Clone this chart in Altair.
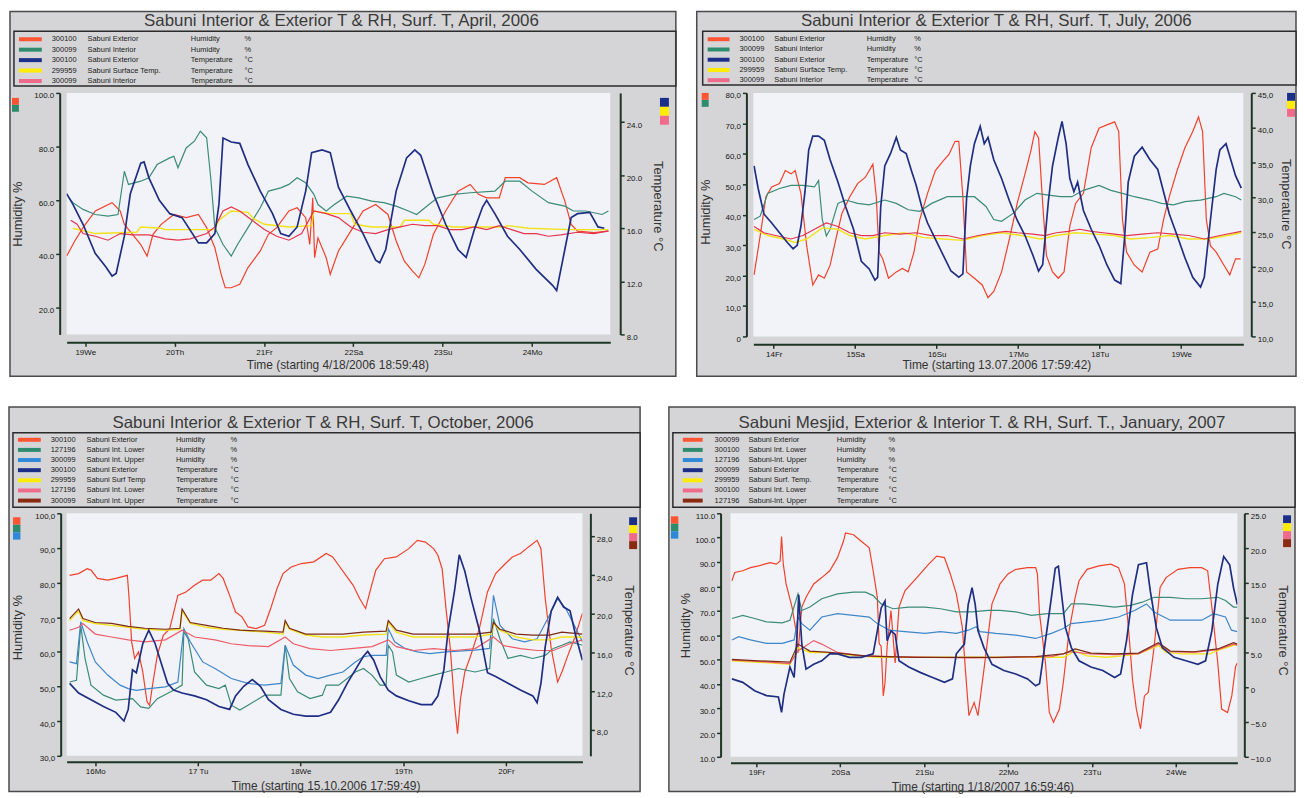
import altair as alt
import pandas as pd

FONT = "Liberation Sans"
GRAY = "#d5d5d7"
PLOT_BG = "#f2f3f9"
EDGE = "#4a4a4a"
AXC = "#1e3526"
TXT = "#333333"

# ---------------------------------------------------------------- April 2006
apr_title = "Sabuni Interior & Exterior T  & RH, Surf. T, April, 2006"
apr_xtitle = "Time (starting 4/18/2006 18:59:48)"
apr_day_ticks = [5, 29, 53, 77, 101, 125]
apr_day_labels = ["19We", "20Th", "21Fr", "22Sa", "23Su", "24Mo"]
apr_rh_ticks = [20, 40, 60, 80, 100]
apr_t_ticks = [8, 12, 16, 20, 24]
apr_leg_roles = ["rh_ext", "rh_int", "t_ext", "t_surf", "t_int"]
apr_leg_ids = ["300100", "300099", "300100", "299959", "300099"]
apr_leg_names = ["Sabuni Exterior", "Sabuni Interior", "Sabuni Exterior", "Sabuni Surface Temp.", "Sabuni Interior"]
apr_leg_qty = ["Humidity", "Humidity", "Temperature", "Temperature", "Temperature"]
apr_leg_units = ["%", "%", "°C", "°C", "°C"]

apr_rh_ext = [(0,39.2),(2.2,44.8),(4.4,49.8),(7.7,56.0),(12.2,59.1),(14.4,56.0),(15.5,51.0),(17.7,47.3),(19.9,43.5),(21.6,39.2),(23.2,47.3),(25.4,51.0),(28.8,54.7),(32.1,53.5),(35.4,54.7),(37.6,49.8),(39.8,42.3),(41.5,32.4),(42.6,27.4),(44.2,27.4),(46.5,28.7),(48.7,34.9),(52.0,41.1),(54.2,47.3),(56.4,49.8),(59.7,56.0),(61.9,57.2),(64.2,53.5),(65.3,43.5),(66.1,60.9),(66.6,38.6),(67.5,46.0),(69.7,38.6),(70.8,32.4),(73.0,41.1),(76.3,48.5),(79.6,56.0),(83.0,58.4),(86.3,54.7),(88.5,44.8),(90.7,37.3),(92.9,33.6),(94.6,31.1),(96.2,36.1),(98.5,47.3),(101.8,56.0),(105.1,63.4),(108.4,65.9),(110.6,62.2),(112.8,60.9),(116.2,60.9),(117.8,68.4),(121.7,68.4),(123.9,66.5),(128.3,65.9),(131.6,68.4),(133.8,59.7),(135.5,51.0),(137.2,48.5),(141.6,47.9),(145.5,48.5)]
apr_rh_int = [(0.6,60.9),(1.7,59.1),(4.4,56.6),(7.7,54.7),(11.1,54.1),(13.8,54.7),(15.5,70.8),(16.6,65.9),(19.9,67.1),(22.1,68.4),(24.3,73.3),(27.7,75.8),(28.8,76.4),(29.9,72.1),(32.1,79.5),(34.3,82.0),(35.9,85.7),(37.6,83.3),(38.7,68.4),(39.8,49.8),(42.0,43.5),(44.2,39.2),(45.9,43.5),(48.7,49.8),(52.0,57.2),(54.2,63.4),(57.5,64.6),(59.7,65.9),(61.9,68.4),(64.2,66.5),(66.4,62.2),(67.5,58.4),(69.7,56.0),(71.9,58.4),(75.2,61.5),(78.5,60.9),(81.9,59.7),(85.2,59.1),(88.5,57.8),(91.8,56.0),(94.0,54.7),(97.3,58.4),(99.6,60.9),(104.0,62.2),(108.4,62.8),(115.0,63.4),(117.8,67.1),(121.7,67.1),(125.0,63.4),(129.4,59.1),(133.8,57.8),(136.1,56.0),(139.4,56.0),(143.8,54.7),(145.5,56.0)]
apr_t_ext = [(0,18.6),(1.7,17.8),(4.4,16.3),(7.7,14.1),(10.5,13.1),(12.2,12.4),(13.3,12.6),(15.5,15.4),(17.1,18.6),(19.9,20.9),(20.8,21.0),(22.1,19.8),(24.9,18.1),(27.7,17.1),(31.0,16.8),(35.4,14.9),(37.6,14.9),(39.8,15.6),(40.9,17.8),(42.0,22.8),(44.2,22.5),(46.5,22.4),(48.7,20.8),(52.0,18.8),(55.3,17.1),(57.5,15.6),(59.7,15.4),(61.9,16.1),(64.2,18.8),(65.8,21.7),(68.6,21.9),(70.8,21.7),(73.0,19.1),(76.3,17.3),(79.6,15.6),(83.0,13.6),(84.1,13.4),(85.7,14.4),(88.5,18.8),(91.3,21.3),(93.5,21.9),(95.1,21.5),(98.5,18.6),(101.8,16.3),(105.1,14.4),(107.3,13.8),(109.5,15.9),(111.7,17.6),(112.8,18.1),(115.0,17.1),(118.4,15.4),(121.7,14.4),(126.1,12.9),(130.5,11.7),(131.6,11.3),(133.8,14.4),(135.5,16.8),(137.2,17.1),(140.5,17.2),(142.7,16.1),(144.4,16.0)]
apr_t_surf = [(1.7,16.0),(7.7,15.6),(18.8,15.7),(19.9,16.1),(25.4,16.0),(26.5,15.9),(39.8,15.9),(40.9,16.6),(44.2,17.3),(48.7,17.2),(50.3,16.7),(53.1,16.3),(59.7,16.1),(65.8,16.2),(66.4,17.3),(70.8,17.1),(76.3,17.1),(77.4,16.3),(81.9,16.1),(89.6,16.1),(90.7,16.6),(97.3,16.6),(98.5,16.3),(104.0,16.1),(117.3,16.1),(118.4,16.2),(124.0,16.0),(135.0,15.9),(145.5,15.9)]
apr_t_int = [(1.1,16.6),(2.8,16.3),(4.4,15.6),(7.7,15.4),(11.1,15.1),(14.4,15.6),(17.7,15.5),(22.1,15.5),(26.5,15.2),(29.9,15.1),(33.2,15.2),(37.6,15.6),(39.8,16.1),(42.0,17.3),(44.2,17.6),(46.5,17.3),(49.8,16.6),(53.1,15.9),(56.4,15.4),(59.7,15.1),(63.1,15.6),(66.4,17.3),(69.7,17.1),(73.0,16.8),(76.3,16.1),(79.6,15.7),(83.0,15.6),(86.3,15.9),(89.6,16.1),(92.9,16.3),(96.2,16.2),(99.6,16.2),(102.9,15.9),(106.2,15.9),(109.5,16.1),(112.8,15.9),(116.2,16.2),(119.5,15.9),(122.8,15.6),(126.1,15.6),(129.4,15.4),(132.7,15.5),(137.2,15.7),(141.6,15.6),(145.5,15.8)]

# ---------------------------------------------------------------- July 2006
jul_title = "Sabuni Interior & Exterior T & RH, Surf. T, July, 2006"
jul_xtitle = "Time (starting 13.07.2006 17:59:42)"
jul_day_ticks = [6, 30, 54, 78, 102, 126]
jul_day_labels = ["14Fr", "15Sa", "16Su", "17Mo", "18Tu", "19We"]
jul_rh_ticks = [0, 10, 20, 30, 40, 50, 60, 70, 80]
jul_t_ticks = [10, 15, 20, 25, 30, 35, 40, 45]
jul_leg_roles = ["rh_ext", "rh_int", "t_ext", "t_surf", "t_int"]
jul_leg_ids = ["300100", "300099", "300100", "299959", "300099"]
jul_leg_names = ["Sabuni Exterior", "Sabuni Interior", "Sabuni Exterior", "Sabuni Surface Temp.", "Sabuni Interior"]
jul_leg_qty = ["Humidity", "Humidity", "Temperature", "Temperature", "Temperature"]
jul_leg_units = ["%", "%", "°C", "°C", "°C"]

jul_rh_ext = [(0.2,20.2),(2.0,33.0),(3.7,45.9),(5.4,49.1),(7.7,50.2),(9.4,54.5),(11.1,53.4),(12.3,54.5),(14.0,47.0),(15.7,29.8),(17.5,16.9),(19.2,20.2),(20.9,19.1),(22.6,23.4),(24.3,32.0),(26.1,40.5),(28.4,45.9),(30.7,50.2),(33.0,52.3),(35.2,56.6),(36.2,45.9),(37.0,27.7),(38.1,25.5),(39.8,19.1),(42.1,21.2),(43.9,22.3),(45.6,21.2),(47.3,27.7),(49.0,38.4),(51.3,47.0),(53.6,54.5),(55.9,57.7),(57.6,59.8),(59.4,64.1),(60.5,64.1),(61.7,45.9),(62.8,21.2),(65.1,19.1),(67.4,16.9),(69.1,12.7),(70.8,14.8),(73.1,21.2),(75.4,32.0),(77.7,43.7),(80.0,53.4),(81.7,60.9),(82.9,67.3),(84.0,65.2),(85.2,43.7),(86.3,26.6),(88.1,21.2),(89.8,19.1),(91.5,21.2),(93.2,36.2),(94.9,43.7),(97.2,47.0),(99.5,62.0),(101.8,68.4),(104.1,69.5),(106.4,70.5),(107.6,67.3),(108.7,38.4),(109.9,27.7),(112.2,23.4),(114.5,21.2),(116.8,27.7),(119.1,28.7),(120.8,38.4),(122.5,45.9),(124.8,54.5),(127.1,62.0),(129.4,67.3),(131.1,72.1),(132.3,67.3),(133.4,38.4),(134.6,29.8),(136.3,27.7),(138.6,23.4),(140.3,20.2),(142.0,25.5),(143.5,25.5)]
jul_rh_int = [(0.2,38.4),(2.0,39.5),(4.2,47.0),(7.7,48.6),(11.1,49.6),(14.6,49.6),(18.0,49.1),(19.2,51.2),(20.3,38.4),(21.5,33.0),(22.6,35.2),(24.9,43.7),(27.2,44.8),(30.7,43.7),(34.1,43.2),(38.7,44.8),(42.1,43.7),(45.6,41.6),(49.0,41.1),(52.5,43.7),(57.1,45.9),(61.7,45.9),(65.1,45.9),(68.5,42.7),(70.8,38.4),(73.1,37.8),(76.6,40.5),(80.0,44.8),(83.5,47.0),(86.9,46.4),(90.4,45.9),(93.8,45.9),(97.2,48.0),(101.8,49.6),(105.3,48.0),(108.7,47.0),(112.2,45.9),(116.8,44.8),(120.2,43.7),(123.7,43.2),(127.1,44.3),(131.7,44.8),(136.3,45.9),(138.6,47.0),(142.0,45.9),(143.7,44.8)]
jul_t_ext = [(0.2,34.5),(1.4,31.3),(3.1,27.6),(5.4,26.3),(7.7,24.9),(10.0,23.5),(11.7,22.6),(12.9,23.1),(14.0,25.8),(15.2,30.8),(16.3,36.8),(17.5,38.8),(19.2,38.8),(20.9,38.2),(22.6,35.4),(24.9,32.2),(27.2,28.6),(29.5,25.4),(31.8,20.8),(34.1,19.7),(35.8,18.1),(36.6,18.5),(37.5,28.6),(38.7,34.5),(40.4,36.3),(42.1,38.6),(43.3,36.8),(45.0,36.3),(46.7,33.6),(47.9,31.8),(49.6,28.6),(51.3,26.3),(53.6,24.0),(55.9,21.7),(58.2,19.4),(60.5,18.5),(61.7,19.0),(62.8,29.9),(63.9,34.5),(65.1,37.7),(66.8,40.2),(68.0,37.7),(69.1,38.6),(70.8,35.4),(73.1,32.7),(75.4,29.5),(77.7,26.7),(80.0,24.5),(82.3,21.7),(84.0,19.4),(85.2,20.3),(86.9,29.5),(88.1,34.5),(89.8,38.6),(90.9,40.9),(92.1,37.7),(93.2,32.7),(94.4,30.8),(95.5,32.2),(97.2,28.1),(99.5,25.4),(101.8,23.1),(104.1,20.3),(106.4,18.1),(108.2,17.6),(109.3,24.0),(110.4,32.2),(112.2,35.9),(114.5,37.2),(116.8,35.4),(119.1,34.0),(120.8,30.8),(122.5,27.6),(124.8,24.5),(127.1,21.3),(129.4,18.5),(131.7,17.1),(132.8,18.5),(134.6,26.7),(136.3,34.0),(137.4,36.8),(139.2,37.7),(140.3,35.9),(142.0,33.1),(143.7,31.3)]
jul_t_surf = [(0.2,25.4),(4.2,24.5),(8.8,24.0),(12.3,23.5),(15.7,24.0),(20.3,25.6),(24.9,25.4),(28.4,24.5),(33.0,24.0),(38.7,24.5),(44.4,24.9),(50.2,24.2),(55.9,24.0),(61.7,23.8),(67.4,24.5),(73.1,24.9),(78.9,24.5),(84.6,24.0),(89.2,24.5),(94.9,24.9),(100.7,24.7),(106.4,24.5),(111.0,24.0),(116.8,24.2),(122.5,24.5),(128.2,24.0),(133.9,24.0),(139.7,24.5),(143.7,24.9)]
jul_t_int = [(0.2,25.8),(3.1,24.9),(6.5,24.5),(11.1,24.0),(14.6,24.5),(18.0,25.4),(21.5,26.3),(24.9,25.8),(28.4,24.9),(31.8,24.5),(35.2,24.5),(38.7,24.9),(43.3,24.7),(47.9,24.9),(52.5,24.5),(57.1,24.5),(61.7,24.0),(66.2,24.5),(70.8,24.9),(74.4,25.1),(77.7,24.9),(82.3,24.7),(85.8,24.5),(89.2,24.9),(92.7,25.1),(96.1,25.4),(99.5,25.1),(103.0,24.9),(106.4,24.7),(109.9,24.5),(114.5,24.7),(119.1,24.9),(123.7,24.7),(128.2,24.5),(132.8,24.0),(137.4,24.5),(143.7,25.1)]

# ---------------------------------------------------------------- October 2006
oct_title = "Sabuni Interior & Exterior T & RH, Surf. T, October, 2006"
oct_xtitle = "Time (starting 15.10.2006 17:59:49)"
oct_day_ticks = [6, 30, 54, 78, 102]
oct_day_labels = ["16Mo", "17 Tu", "18We", "19Th", "20Fr"]
oct_rh_ticks = [30, 40, 50, 60, 70, 80, 90, 100]
oct_t_ticks = [8, 12, 16, 20, 24, 28]
oct_leg_roles = ["rh_ext", "rh_low", "rh_up", "t_ext", "t_surf", "t_low", "t_up"]
oct_leg_ids = ["300100", "127196", "300099", "300100", "299959", "127196", "300099"]
oct_leg_names = ["Sabuni Exterior", "Sabuni Int. Lower", "Sabuni Int. Upper", "Sabuni Exterior", "Sabuni Surf Temp", "Sabuni Int. Lower", "Sabuni Int. Upper"]
oct_leg_qty = ["Humidity", "Humidity", "Humidity", "Temperature", "Temperature", "Temperature", "Temperature"]
oct_leg_units = ["%", "%", "%", "°C", "°C", "°C", "°C"]

oct_rh_ext = [(0,82.1),(2.1,82.6),(4.1,84.0),(5.0,83.6),(6.5,81.2),(8.9,80.7),(10.8,81.2),(13.5,82.1),(13.9,75.4),(14.5,62.9),(15.2,58.1),(16.1,60.0),(17.1,54.2),(18.1,45.6),(18.7,44.6),(19.5,51.3),(20.5,59.0),(21.9,64.8),(23.4,66.7),(25.3,76.3),(27.2,77.3),(29.2,79.2),(31.1,80.7),(33.0,80.7),(34.9,82.6),(35.9,81.2),(37.4,76.3),(38.8,71.5),(40.3,70.1),(41.7,67.2),(43.6,66.7),(45.6,67.7),(47.0,72.5),(48.5,78.3),(49.9,82.6),(51.8,84.5),(54.2,85.5),(57.1,86.0),(60.0,88.4),(61.5,87.4),(62.9,85.0),(64.9,81.6),(66.3,79.2),(67.8,75.4),(69.2,72.5),(70.2,77.3),(71.6,83.6),(73.6,86.9),(76.4,87.4),(79.3,89.8),(81.3,92.2),(83.2,91.7),(85.1,89.8),(86.1,87.9),(87.1,84.0),(88.0,72.5),(89.0,61.0),(90.0,44.6),(90.7,36.4),(91.4,46.5),(92.4,54.2),(93.8,59.0),(95.8,66.7),(97.7,77.3),(99.6,82.6),(101.5,85.0),(103.5,87.4),(105.4,88.4),(107.3,90.3),(109.3,92.2),(110.2,89.8),(111.2,75.4),(112.6,61.0),(114.1,51.3),(115.1,54.2),(116.5,59.0),(118.0,63.8),(119.9,71.1)]
oct_rh_low = [(0,51.3),(1.6,51.8),(2.6,67.7),(3.6,58.1),(5.0,50.4),(7.9,47.5),(10.8,46.1),(14.7,46.5),(16.6,44.1),(18.5,43.7),(20.5,46.5),(24.3,48.9),(26.3,50.4),(26.7,65.8),(27.7,63.8),(29.2,54.2),(32.0,50.4),(34.9,49.4),(36.4,50.4),(37.8,44.6),(39.8,43.2),(41.7,44.6),(45.6,47.5),(49.4,47.5),(50.4,61.9),(51.4,52.3),(53.3,48.5),(56.2,46.5),(59.1,47.5),(60.0,50.4),(62.9,50.4),(64.9,52.3),(66.8,54.2),(68.7,55.2),(70.7,53.3),(72.6,50.4),(74.0,50.4),(74.5,61.9),(75.5,60.0),(76.4,53.3),(79.3,51.3),(82.2,52.3),(85.1,53.3),(88.0,54.2),(90.9,55.2),(94.8,54.2),(98.2,55.2),(99.1,69.6),(100.6,63.8),(102.5,58.1),(105.4,59.0),(108.3,58.1),(111.2,59.0),(113.1,61.0),(115.1,61.9),(117.0,62.9),(119.9,61.9)]
oct_rh_up = [(0,57.1),(1.6,56.6),(2.6,68.7),(4.1,62.9),(6.0,57.1),(8.9,53.3),(11.8,50.4),(13.7,49.4),(15.6,48.9),(18.5,49.4),(22.4,49.9),(25.3,51.3),(26.7,66.7),(28.2,62.9),(31.1,57.1),(34.0,55.2),(37.8,52.3),(41.7,50.9),(45.6,50.4),(49.4,50.9),(50.4,61.9),(52.3,56.2),(55.2,53.3),(58.1,52.3),(61.0,53.3),(63.9,54.2),(66.8,57.1),(68.7,58.6),(70.7,59.0),(74.0,59.0),(74.5,66.7),(76.0,62.9),(78.4,61.0),(81.3,60.0),(84.2,59.5),(88.0,60.0),(94.8,60.5),(98.2,61.0),(99.1,76.3),(100.6,67.7),(103.5,63.8),(106.4,62.9),(109.3,63.8),(112.2,70.6),(114.1,75.4),(116.0,72.5),(118.0,67.7),(119.9,62.9)]
oct_t_ext = [(0,12.8),(2.1,11.8),(5.0,11.1),(7.9,10.4),(10.8,9.8),(12.7,8.9),(13.7,10.1),(14.7,14.2),(15.6,13.9),(17.1,16.9),(18.5,18.3),(20.0,16.9),(21.4,14.9),(22.9,12.8),(24.3,12.1),(26.3,11.8),(29.2,11.5),(32.0,11.1),(34.9,10.4),(37.4,10.1),(38.8,11.5),(40.7,12.5),(42.7,13.2),(44.6,12.5),(46.5,11.1),(49.4,10.1),(52.3,9.6),(55.2,9.4),(58.1,9.4),(61.0,9.8),(62.9,11.1),(64.9,12.8),(66.8,14.2),(68.7,15.6),(69.7,16.1),(71.1,15.2),(72.6,13.5),(74.5,12.1),(76.4,11.5),(79.3,11.0),(82.2,10.6),(84.7,10.6),(86.1,11.5),(87.5,14.2),(88.5,18.3),(90.0,22.4),(91.1,26.1),(92.4,24.4),(93.8,21.7),(95.8,18.3),(97.7,13.9),(99.6,13.5),(102.5,12.8),(105.4,12.1),(108.3,11.5),(109.3,10.8),(110.2,12.8),(111.2,16.6),(112.6,20.3),(114.1,21.7),(115.5,20.7),(117.0,20.3),(118.4,17.6),(119.9,15.2)]
oct_t_surf = [(0,19.3),(2.1,20.3),(3.1,19.3),(6.0,19.0),(9.8,18.8),(13.7,18.6),(17.6,18.4),(22.4,18.3),(25.8,18.4),(26.3,20.3),(28.2,19.0),(32.0,18.6),(35.9,18.4),(39.8,18.3),(45.6,18.1),(49.9,17.9),(50.4,19.1),(51.4,18.4),(55.2,17.8),(59.1,17.6),(63.9,17.6),(68.7,17.8),(74.0,17.9),(74.5,19.1),(76.4,18.1),(80.3,17.6),(85.1,17.6),(90.0,17.6),(94.8,17.6),(98.6,17.9),(99.1,19.0),(100.6,18.3),(104.4,17.6),(108.3,17.3),(112.2,17.3),(115.1,17.6),(119.9,17.6)]
oct_t_low = [(0,18.3),(2.1,18.6),(3.1,19.0),(6.0,17.9),(9.8,17.6),(13.7,17.3),(17.6,17.1),(22.4,17.3),(26.3,18.3),(29.2,17.6),(34.0,17.3),(37.8,16.9),(41.7,16.7),(46.5,16.6),(50.4,17.6),(52.3,16.9),(56.2,16.4),(61.0,16.2),(65.8,16.4),(70.7,16.6),(74.5,17.3),(76.4,16.6),(80.3,16.2),(85.1,16.4),(90.0,16.2),(94.8,16.4),(99.1,17.6),(101.5,16.7),(105.4,16.4),(109.3,16.2),(113.1,16.2),(117.0,16.9),(119.9,17.3)]
oct_t_up = [(0,19.5),(2.1,20.5),(3.1,19.5),(6.0,19.1),(9.8,19.0),(13.7,18.7),(17.6,18.5),(22.4,18.4),(25.8,18.5),(26.3,20.5),(28.2,19.1),(32.0,18.8),(35.9,18.5),(39.8,18.3),(45.6,18.2),(49.9,18.1),(50.4,19.3),(51.4,18.5),(55.2,17.9),(59.1,17.9),(63.9,17.9),(68.7,18.1),(74.0,18.2),(74.5,19.3),(76.4,18.3),(80.3,17.9),(85.1,17.9),(90.0,17.9),(94.8,17.9),(98.6,18.1),(99.1,19.1),(100.6,18.4),(104.4,17.9),(108.3,17.8),(112.2,17.8),(115.1,18.1),(119.9,17.9)]

# ---------------------------------------------------------------- January 2007
jan_title = "Sabuni Mesjid, Exterior & Interior T. & RH, Surf. T., January, 2007"
jan_xtitle = "Time (starting 1/18/2007 16:59:46)"
jan_day_ticks = [7, 31, 55, 79, 103, 127]
jan_day_labels = ["19Fr", "20Sa", "21Su", "22Mo", "23Tu", "24We"]
jan_rh_ticks = [10, 20, 30, 40, 50, 60, 70, 80, 90, 100, 110]
jan_t_ticks = [-10, -5, 0, 5, 10, 15, 20, 25]
jan_leg_roles = ["rh_ext", "rh_low", "rh_up", "t_ext", "t_surf", "t_low", "t_up"]
jan_leg_ids = ["300099", "300100", "127196", "300099", "299959", "300100", "127196"]
jan_leg_names = ["Sabuni Exterior", "Sabuni Int. Lower", "Sabuni-Int. Upper", "Sabuni Exterior", "Sabuni Surf. Temp.", "Sabuni Int. Lower", "Sabuni-Int. Upper"]
jan_leg_qty = ["Humidity", "Humidity", "Humidity", "Temperature", "Temperature", "Temperature", "Temperature"]
jan_leg_units = ["%", "%", "%", "°C", "°C", "°C", "°C"]

jan_rh_ext = [(0,82.3),(0.8,85.7),(3.1,86.4),(5.3,87.7),(7.6,88.4),(9.3,89.1),(11.0,89.7),(12.7,89.1),(13.8,90.4),(14.2,100.5),(14.7,89.1),(15.5,81.0),(17.2,71.5),(18.3,62.0),(18.9,52.6),(20.0,71.5),(21.2,75.5),(23.4,81.0),(25.7,83.6),(28.0,86.4),(30.2,91.8),(31.9,98.5),(32.5,101.9),(34.8,101.2),(37.0,98.5),(39.3,95.8),(40.4,86.4),(41.6,75.5),(42.1,56.6),(42.7,55.3),(43.3,35.0),(43.8,40.4),(44.4,55.3),(45.5,70.1),(46.7,48.5),(47.8,71.5),(49.5,78.2),(52.9,83.6),(56.3,89.1),(58.6,92.4),(60.8,91.8),(62.5,85.0),(64.2,76.9),(65.9,63.4),(67.0,41.8),(67.8,26.9),(69.3,32.3),(70.4,26.9),(72.1,45.8),(74.4,72.8),(76.7,81.0),(78.9,85.0),(81.2,87.0),(84.6,87.7),(86.9,87.7),(87.4,85.0),(88.0,68.8),(89.7,48.5),(90.8,28.2),(92.0,24.2),(93.7,29.6),(94.8,40.4),(96.5,62.0),(98.2,75.5),(99.3,82.3),(101.6,87.0),(105.0,88.4),(108.4,89.1),(110.6,87.7),(112.3,81.0),(113.5,62.0),(114.6,41.8),(115.7,29.6),(116.9,21.5),(118.0,35.0),(119.1,36.4),(120.8,55.3),(122.5,79.6),(124.2,83.6),(127.6,87.0),(131.0,87.7),(134.4,87.7),(136.1,86.4),(137.3,71.5),(139.0,48.5),(140.1,29.6),(141.8,28.2),(143.0,35.0),(144.1,47.2),(144.6,48.5)]
jan_rh_low = [(0,66.8),(3.1,68.1),(6.5,66.8),(9.9,65.4),(14.4,65.0),(16.6,66.1),(18.9,76.9),(20.0,70.1),(22.3,71.5),(25.7,74.9),(30.2,76.9),(34.8,77.6),(38.2,77.6),(40.4,76.2),(42.7,72.8),(46.1,70.8),(50.6,71.5),(55.2,71.5),(59.7,70.8),(64.2,69.5),(68.7,69.5),(73.3,70.1),(76.7,70.1),(81.2,69.5),(85.7,68.1),(90.3,68.8),(94.8,68.8),(97.1,72.8),(100.5,72.8),(105.0,72.2),(109.5,71.5),(114.0,72.2),(117.4,73.5),(120.8,75.5),(125.4,75.5),(129.9,74.9),(134.4,74.9),(139.0,75.5),(141.2,74.2),(143.5,71.5),(144.6,71.5)]
jan_rh_up = [(0,58.0),(1.9,59.3),(5.3,58.0),(9.9,56.6),(14.4,56.6),(17.8,58.0),(18.9,67.4),(20.0,64.7),(22.3,62.0),(25.7,67.4),(30.2,68.8),(34.8,68.1),(39.3,67.4),(41.6,64.7),(45.0,62.0),(49.5,61.4),(55.2,60.7),(59.7,61.4),(64.2,60.7),(67.6,62.0),(69.9,63.4),(71.0,61.4),(75.5,60.7),(81.2,60.0),(86.9,58.6),(91.4,60.7),(94.8,62.7),(97.1,64.7),(101.6,65.4),(106.1,66.1),(110.6,67.4),(115.2,70.1),(118.6,72.8),(120.8,69.5),(125.4,66.1),(129.9,66.1),(134.4,66.1),(137.8,68.8),(141.2,67.4),(142.9,62.0),(144.6,61.4)]
jan_t_ext = [(0,1.2),(3.1,0.7),(6.5,-0.5),(9.9,-1.2),(13.3,-1.4),(14.2,-3.6),(14.9,-1.0),(16.6,2.9),(17.8,1.4),(18.6,7.1),(19.1,13.3),(20.0,6.2),(21.2,2.6),(23.4,3.3),(25.7,3.8),(28.0,4.8),(30.2,4.8),(33.6,4.3),(37.0,4.3),(40.4,4.8),(41.6,8.1),(42.7,11.4),(43.8,12.4),(44.4,6.7),(45.5,8.1),(46.7,7.6),(47.8,3.8),(50.6,2.9),(54.0,2.1),(57.4,1.4),(60.8,0.7),(63.1,1.2),(64.2,4.8),(66.5,6.2),(67.6,11.9),(68.7,14.3),(69.6,11.9),(70.4,8.1),(72.1,5.7),(74.4,3.3),(77.8,2.4),(81.2,1.9),(84.6,1.2),(86.9,0.2),(88.0,0.5),(89.7,6.7),(91.4,12.9),(92.5,17.1),(93.4,17.4),(94.2,13.8),(95.4,8.6),(97.1,5.7),(99.3,3.8),(102.7,2.9),(106.1,2.4),(109.5,1.4),(111.2,1.9),(112.9,6.7),(114.6,13.3),(116.3,17.6),(118.6,17.9),(119.7,13.8),(121.4,8.6),(123.1,5.7),(126.5,4.3),(129.9,3.8),(133.3,3.3),(135.5,3.8),(137.3,8.1),(139.0,14.8),(140.7,18.8),(142.4,17.6),(143.5,14.3),(144.6,11.9)]
jan_t_surf = [(0,3.8),(7.6,3.6),(16.6,3.3),(18.9,5.7),(22.3,5.0),(26.8,5.0),(30.2,4.8),(35.9,4.5),(41.6,4.3),(55.2,4.3),(68.7,4.3),(82.3,4.3),(94.8,4.3),(98.2,5.2),(101.6,4.5),(107.2,4.3),(111.8,4.5),(116.3,4.8),(122.0,6.0),(124.2,5.0),(128.8,4.8),(136.7,4.8),(140.1,5.5),(144.6,6.2)]
jan_t_low = [(0,3.9),(7.6,3.7),(16.6,3.4),(18.9,5.2),(23.4,6.7),(25.7,6.2),(30.2,5.0),(37.0,4.5),(46.1,4.4),(57.4,4.3),(68.7,4.2),(80.1,4.3),(91.4,4.4),(97.1,5.1),(102.7,4.8),(109.5,4.7),(116.3,4.8),(122.0,6.2),(125.4,5.1),(132.2,5.0),(139.0,5.4),(143.5,6.2),(144.6,6.0)]
jan_t_up = [(0,4.0),(7.6,3.8),(16.6,3.6),(18.9,6.2),(22.3,5.2),(28.0,5.0),(32.5,4.8),(38.2,4.5),(43.8,4.4),(52.9,4.3),(64.2,4.3),(75.5,4.3),(86.9,4.4),(94.8,4.8),(98.2,5.5),(102.7,4.9),(109.5,4.8),(116.3,4.9),(122.0,6.4),(125.4,5.2),(132.2,5.1),(139.0,5.5),(143.5,6.4),(144.6,6.2)]

# ---------------------------------------------------------------- styles
LINE_COLORS = {
    "rh_ext": "#f2402a", "rh_int": "#3b8b76", "rh_low": "#3b8b76", "rh_up": "#3f86c9",
    "t_ext": "#1f2e82", "t_surf": "#f2e21a", "t_int": "#e5344c", "t_low": "#ee5c66", "t_up": "#7c2a18",
}
SWATCH = {
    "rh_ext": "#ff5533", "rh_int": "#2e8b6e", "rh_low": "#2e8b6e", "rh_up": "#2f89d9",
    "t_ext": "#1b2e88", "t_surf": "#ffec00", "t_int": "#f06a8c", "t_low": "#f06a8c", "t_up": "#8a2a12",
}
WIDTH = {"t_ext": 1.7, "t_surf": 1.4}

AX_KW = dict(domainColor=AXC, domainWidth=2, tickColor=AXC, tickWidth=1.5, tickSize=4,
             labelFont=FONT, labelFontSize=8, labelColor="#151515", grid=False, zindex=1,
             labelPadding=2, title=None, labelOverlap=False)


def num_expr(comma):
    if comma:
        return "datum.value == 0 ? '0' : replace(format(datum.value, '.1f'), '.', ',')"
    return "datum.value == 0 ? '0' : format(datum.value, '.1f')"


def day_expr(ticks, labels):
    arr = "[" + ",".join("'%s'" % s for s in labels) + "]"
    return "%s[round((datum.value - %g) / 24)]" % (arr, ticks[0])


def series_df(items):
    rows = []
    for k, (role, pts) in enumerate(items):
        for t, v in pts:
            rows.append({"t": t, "v": v, "s": "%02d_%s" % (k, role),
                         "c": LINE_COLORS[role], "w": WIDTH.get(role, 1.2)})
    return pd.DataFrame(rows)


def build_panel(g, title, xtitle, leg, hum_items, tmp_items, xdom, xt, xl, ldom, lt, lcomma, rdom, rt, rcomma):
    W, H = g["W"], g["H"]
    base = alt.Chart(pd.DataFrame({"k": [0]}))
    ypix = alt.Y("py:Q", scale=None, axis=None)
    layers = [
        base.mark_rect(fill=GRAY, stroke=EDGE, strokeWidth=1.5).encode(
            x=alt.value(-g["L"]), x2=alt.value(W + g["R"]), y=alt.value(-g["T"]), y2=alt.value(H + g["B"])),
        base.mark_rect(fill=PLOT_BG).encode(
            x=alt.value(0), x2=alt.value(W), y=alt.value(0), y2=alt.value(H)),
        base.mark_rect(fill=GRAY, stroke="#2b2b2b", strokeWidth=1.5).encode(
            x=alt.value(g["bx0"]), x2=alt.value(W + g["R"]), y=alt.value(g["by0"]), y2=alt.value(g["by1"])),
        base.mark_text(font=FONT, fontSize=17, color="#3a3a3a").encode(
            x=alt.value(g["tx"]), y=alt.value(g["ty"]), text=alt.value(title)),
    ]
    roles, ids, names, qty, units = leg
    ldf = pd.DataFrame({"i": list(range(len(roles))), "id": ids, "name": names, "q": qty, "u": units,
                        "c": [SWATCH[r] for r in roles]})
    lg = alt.Chart(ldf).transform_calculate(py="%g + datum.i * %g" % (g["ly0"], g["ldy"]))
    layers.append(lg.mark_rule(strokeWidth=4).encode(
        x=alt.value(g["sx0"]), x2=alt.value(g["sx1"]), y=ypix, color=alt.Color("c:N", scale=None)))
    for col, xx in (("id", g["cid"]), ("name", g["cname"]), ("q", g["cq"]), ("u", g["cu"])):
        layers.append(lg.mark_text(align="left", baseline="middle", font=FONT, fontSize=7.5,
                                   color="#1a1a1a").encode(x=alt.value(xx), y=ypix, text=col + ":N"))
    hum_roles = [r for r, u in zip(roles, units) if u == "%"]
    tmp_roles = [r for r, u in zip(roles, units) if u != "%"]
    for rl, x0, y0, ss in ((hum_roles, g["sqLx"], g["sqLy"], g["sqL"]),
                           (tmp_roles, W + g["sqRx"], g["sqRy"], g["sqR"])):
        sdf = pd.DataFrame({"i": list(range(len(rl))), "c": [SWATCH[r] for r in rl]})
        layers.append(alt.Chart(sdf).transform_calculate(py="%g + datum.i * %g" % (y0 + ss / 2.0, ss))
                      .mark_square(size=ss * ss, filled=True, opacity=1).encode(
                          x=alt.value(x0 + ss / 2.0), y=ypix, color=alt.Color("c:N", scale=None)))
    layers.append(base.mark_text(font=FONT, fontSize=13, color=TXT, angle=270).encode(
        x=alt.value(g["hx"]), y=alt.value(g["hy"]), text=alt.value("Humidity %")))
    layers.append(base.mark_text(font=FONT, fontSize=13, color=TXT, angle=90).encode(
        x=alt.value(W + g["rtx"]), y=alt.value(g["rty"]), text=alt.value("Temperature °C")))
    layers.append(base.mark_text(font=FONT, fontSize=12, color=TXT).encode(
        x=alt.value(g["xtx"]), y=alt.value(H + g["xty"]), text=alt.value(xtitle)))

    xs = alt.Scale(domain=xdom, nice=False, zero=False)
    xaxis = alt.Axis(orient="bottom", values=xt, labelExpr=day_expr(xt, xl), offset=g["xo"], **AX_KW)
    hline = alt.Chart(series_df(hum_items)).mark_line(clip=True).encode(
        x=alt.X("t:Q", scale=xs, axis=xaxis),
        y=alt.Y("v:Q", scale=alt.Scale(domain=ldom, nice=False, zero=False),
                axis=alt.Axis(orient="left", values=lt, labelExpr=num_expr(lcomma), offset=g["lo"],
                              labelOffset=3, **AX_KW)),
        detail="s:N", color=alt.Color("c:N", scale=None), strokeWidth=alt.StrokeWidth("w:Q", scale=None))
    tline = alt.Chart(series_df(tmp_items)).mark_line(clip=True).encode(
        x=alt.X("t:Q", scale=xs, axis=xaxis),
        y=alt.Y("v:Q", scale=alt.Scale(domain=rdom, nice=False, zero=False),
                axis=alt.Axis(orient="right", values=rt, labelExpr=num_expr(rcomma), offset=g["ro"],
                              labelOffset=3, **AX_KW)),
        detail="s:N", color=alt.Color("c:N", scale=None), strokeWidth=alt.StrokeWidth("w:Q", scale=None))
    layers += [hline, tline]
    return alt.layer(*layers).resolve_scale(y="independent").properties(width=W, height=H)


G1 = dict(W=547, H=243, L=57, R=66, T=82, B=42, bx0=-53, by0=-62, by1=-7, tx=276.5, ty=-72,
          ly0=-54, ldy=10.5, sx0=-48, sx1=-25, cid=-15, cname=21, cq=125, cu=179,
          sqLx=-55, sqLy=5, sqL=7, sqRx=50, sqRy=5, sqR=9, hx=-49, hy=122, rtx=48, rty=114,
          xtx=273, xty=31, xo=8, lo=7, ro=10)
G2 = dict(W=493, H=245, L=57, R=53, T=82, B=40, bx0=-51, by0=-62, by1=-8, tx=244.5, ty=-72,
          ly0=-54, ldy=10.3, sx0=-46, sx1=-24, cid=-14, cname=21, cq=114, cu=162,
          sqLx=-52, sqLy=0, sqL=7, sqRx=44, sqRy=0, sqR=8, hx=-48, hy=120, rtx=43, rty=112,
          xtx=245, xty=29, xo=8, lo=7, ro=8)
G3 = dict(W=519, H=244, L=58, R=58, T=107, B=36, bx0=-54, by0=-81, by1=-6, tx=258, ty=-91,
          ly0=-74, ldy=10.2, sx0=-49, sx1=-26, cid=-16, cname=20, cq=110, cu=165,
          sqLx=-54, sqLy=4, sqL=7.5, sqRx=47, sqRy=4, sqR=8, hx=-49, hy=115, rtx=47, rty=118,
          xtx=261, xty=30, xo=6, lo=6, ro=8)
G4 = dict(W=510, H=245, L=62, R=58, T=107, B=35, bx0=-58, by0=-81, by1=-6, tx=253, ty=-91,
          ly0=-74, ldy=10.2, sx0=-48, sx1=-28, cid=-16, cname=18, cq=107, cu=159,
          sqLx=-60, sqLy=3, sqL=7.5, sqRx=46, sqRy=2, sqR=8, hx=-45, hy=113, rtx=46, rty=118,
          xtx=254, xty=30, xo=6, lo=10, ro=7)

p1 = build_panel(G1, apr_title, apr_xtitle,
                 (apr_leg_roles, apr_leg_ids, apr_leg_names, apr_leg_qty, apr_leg_units),
                 [("rh_ext", apr_rh_ext), ("rh_int", apr_rh_int)],
                 [("t_surf", apr_t_surf), ("t_int", apr_t_int), ("t_ext", apr_t_ext)],
                 [0, 146], apr_day_ticks, apr_day_labels,
                 [10, 100], apr_rh_ticks, False, [8, 26.2], apr_t_ticks, False)
p2 = build_panel(G2, jul_title, jul_xtitle,
                 (jul_leg_roles, jul_leg_ids, jul_leg_names, jul_leg_qty, jul_leg_units),
                 [("rh_ext", jul_rh_ext), ("rh_int", jul_rh_int)],
                 [("t_surf", jul_t_surf), ("t_int", jul_t_int), ("t_ext", jul_t_ext)],
                 [0, 144.3], jul_day_ticks, jul_day_labels,
                 [0, 80], jul_rh_ticks, True, [10, 45], jul_t_ticks, True)
p3 = build_panel(G3, oct_title, oct_xtitle,
                 (oct_leg_roles, oct_leg_ids, oct_leg_names, oct_leg_qty, oct_leg_units),
                 [("rh_ext", oct_rh_ext), ("rh_low", oct_rh_low), ("rh_up", oct_rh_up)],
                 [("t_surf", oct_t_surf), ("t_low", oct_t_low), ("t_up", oct_t_up), ("t_ext", oct_t_ext)],
                 [-0.7, 119.9], oct_day_ticks, oct_day_labels,
                 [30, 100], oct_rh_ticks, True, [5.3, 30.4], oct_t_ticks, True)
p4 = build_panel(G4, jan_title, jan_xtitle,
                 (jan_leg_roles, jan_leg_ids, jan_leg_names, jan_leg_qty, jan_leg_units),
                 [("rh_ext", jan_rh_ext), ("rh_low", jan_rh_low), ("rh_up", jan_rh_up)],
                 [("t_surf", jan_t_surf), ("t_low", jan_t_low), ("t_up", jan_t_up), ("t_ext", jan_t_ext)],
                 [-0.4, 144.6], jan_day_ticks, jan_day_labels,
                 [10, 110], jan_rh_ticks, False, [-10, 25], jan_t_ticks, False)

chart = alt.vconcat(
    alt.hconcat(p1, p2, spacing=19),
    alt.hconcat(p3, p4, spacing=27),
    spacing=29,
).properties(padding=0, background="white").configure_view(strokeWidth=0)

chart.save("out.html", embed_options={"renderer": "svg", "actions": False})
